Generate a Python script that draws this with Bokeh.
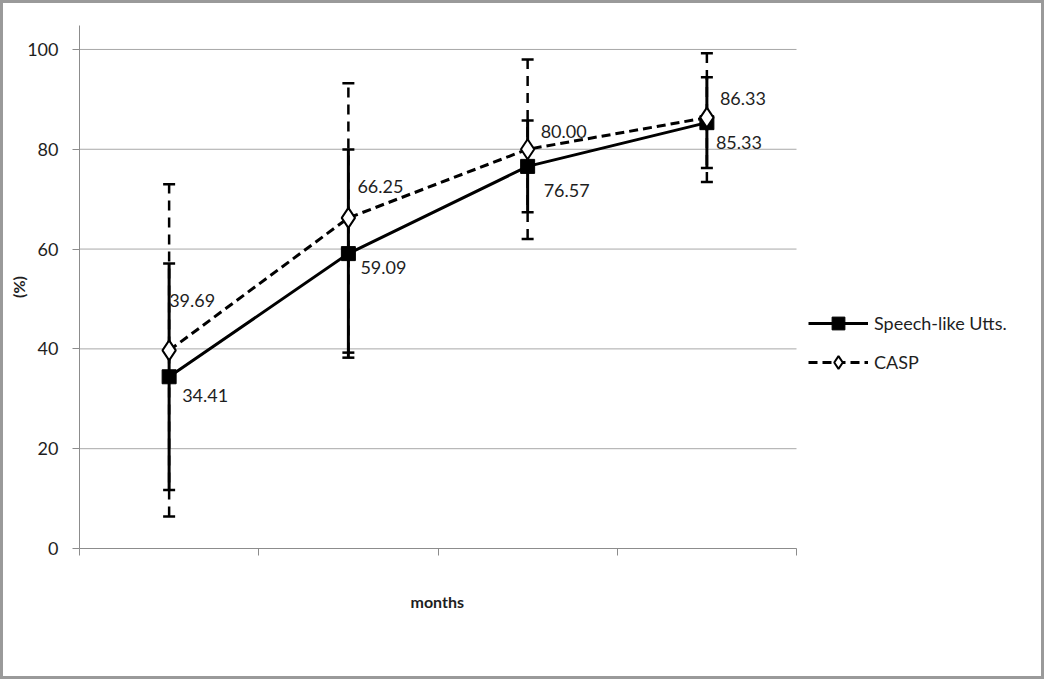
from bokeh.plotting import figure
from bokeh.models import (Range1d, FixedTicker, ColumnDataSource, Whisker, TeeHead,
                          LabelSet, Legend, LegendItem, Title)
from bokeh.core.properties import value
from bokeh.embed import file_html
from bokeh.resources import INLINE

# ---- data ----
categories = ["1", "2", "3", "4"]
speech_mean = [34.41, 59.09, 76.57, 85.33]
speech_err = [22.7, 20.85, 9.2, 9.1]
casp_mean = [39.69, 66.25, 80.00, 86.33]
casp_err = [33.3, 27.0, 18.0, 12.9]
speech_labels = ["34.41", "59.09", "76.57", "85.33"]
casp_labels = ["39.69", "66.25", "80.00", "86.33"]
y_ticks = [0, 20, 40, 60, 80, 100]

FONT = "Lato"
TXT = "#1e1e1e"
GRID = "#a8a8a8"
AXIS = "#8c8c8c"

n = len(categories)
xs = [i + 0.5 for i in range(n)]

# frame extends to the right edge so the legend (drawn inside the frame) is not clipped;
# the category area 0..n occupies 717 px of the 968 px frame
FRAME_W = 968
CAT_W = 717
x_end = n * FRAME_W / CAT_W

p = figure(width=1044, height=679, output_backend="svg", toolbar_location=None,
           x_range=Range1d(0, x_end), y_range=Range1d(0, 104.8),
           min_border_left=76, min_border_right=0, min_border_top=22, min_border_bottom=134,
           background_fill_color="white", border_fill_color="white")
p.styles = {"border": "3px solid #9a9a9a"}
p.outline_line_color = None

# grid (only across the category area)
p.xgrid.visible = False
p.ygrid.visible = False
p.segment(x0=0, x1=n, y0=y_ticks, y1=y_ticks, line_color=GRID, line_width=1, level="underlay")

# y axis
p.yaxis.ticker = FixedTicker(ticks=y_ticks)
p.yaxis.axis_line_color = AXIS
p.yaxis.major_tick_line_color = AXIS
p.yaxis.major_tick_out = 7
p.yaxis.major_tick_in = 0
p.yaxis.minor_tick_line_color = None
p.yaxis.major_label_text_font = FONT
p.yaxis.major_label_text_font_size = "18px"
p.yaxis.major_label_text_color = TXT
p.yaxis.major_label_standoff = 14
p.yaxis.axis_label = "(%)"
p.yaxis.axis_label_text_font = FONT
p.yaxis.axis_label_text_font_size = "16px"
p.yaxis.axis_label_text_font_style = "bold"
p.yaxis.axis_label_text_color = TXT
p.yaxis.axis_label_standoff = -4

# x axis
p.xaxis.ticker = FixedTicker(ticks=list(range(n + 1)))
p.xaxis.bounds = (0, n)
p.xaxis.axis_line_color = AXIS
p.xaxis.major_tick_line_color = AXIS
p.xaxis.major_tick_out = 7
p.xaxis.major_tick_in = 0
p.xaxis.minor_tick_line_color = None
p.xaxis.major_label_text_font_size = "0px"
p.xaxis.major_label_standoff = 0

months_title = Title(text="months", align="left", offset=331, standoff=68,
                     text_font=FONT, text_font_size="16px", text_font_style="bold",
                     text_color=TXT)
p.add_layout(months_title, "below")

src_s = ColumnDataSource(dict(x=xs, y=speech_mean,
                              lo=[m - e for m, e in zip(speech_mean, speech_err)],
                              hi=[m + e for m, e in zip(speech_mean, speech_err)],
                              lab=speech_labels,
                              dx=[13, 12, 16, 9], dy=[-19, -14, -24, -20]))
src_c = ColumnDataSource(dict(x=xs, y=casp_mean,
                              lo=[m - e for m, e in zip(casp_mean, casp_err)],
                              hi=[m + e for m, e in zip(casp_mean, casp_err)],
                              lab=casp_labels,
                              dx=[0, 9, 13, 13], dy=[50, 31, 18, 19]))

# lines
l_s = p.line("x", "y", source=src_s, line_color="black", line_width=3)
l_c = p.line("x", "y", source=src_c, line_color="black", line_width=3, line_dash="9 5")

# markers
m_s = p.scatter("x", "y", source=src_s, marker="square", size=14,
                fill_color="black", line_color="black")
m_c = p.scatter("x", "y", source=src_c, marker="diamond", size=20,
                fill_color="white", line_color="black", line_width=2)

# error bars
w_s = Whisker(source=src_s, base="x", upper="hi", lower="lo", dimension="height",
              line_color="black", line_width=3,
              upper_head=TeeHead(size=12, line_width=2.5, line_color="black"),
              lower_head=TeeHead(size=12, line_width=2.5, line_color="black"))
w_c = Whisker(source=src_c, base="x", upper="hi", lower="lo", dimension="height",
              line_color="black", line_width=2.5, line_dash="10 7",
              upper_head=TeeHead(size=12, line_width=2.5, line_color="black"),
              lower_head=TeeHead(size=12, line_width=2.5, line_color="black"))
p.add_layout(w_c)
p.add_layout(w_s)

# data labels
for src in (src_s, src_c):
    p.add_layout(LabelSet(x="x", y="y", text="lab", source=src,
                          x_offset="dx", y_offset="dy",
                          text_font=value(FONT), text_font_size="18px", text_color=TXT,
                          text_align="left", text_baseline="middle"))

legend = Legend(items=[LegendItem(label="Speech-like Utts.", renderers=[l_s, m_s]),
                       LegendItem(label="CASP", renderers=[l_c, m_c])],
                location=(729, 170), margin=0, padding=0,
                glyph_width=60, glyph_height=32, label_height=32, spacing=7,
                label_standoff=6,
                label_text_font=FONT, label_text_font_size="18px", label_text_color=TXT,
                border_line_color=None, background_fill_alpha=0)
p.add_layout(legend, "center")

open("out.html", "w").write(file_html(p, INLINE))
